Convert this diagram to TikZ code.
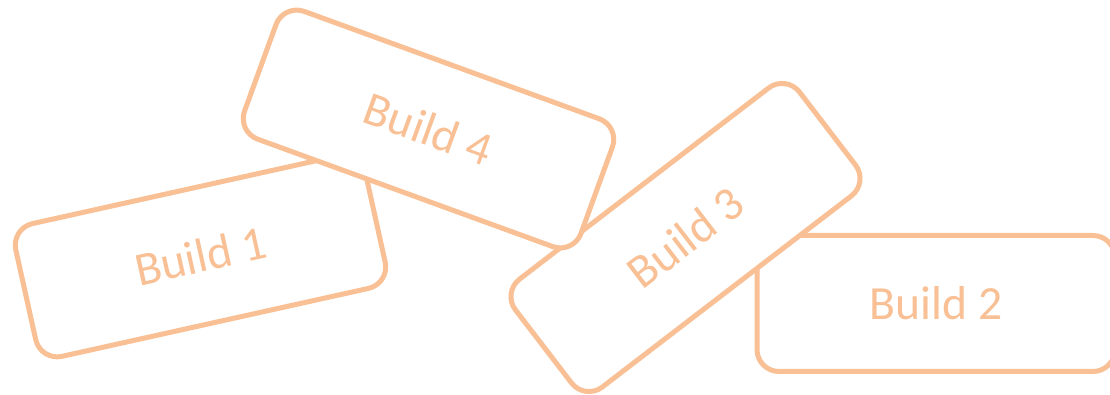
\documentclass[tikz,border=0pt]{standalone}
\usepackage{fontspec}
\setmainfont{Carlito}
\definecolor{peche}{RGB}{248,192,148}

\begin{document}
\begin{tikzpicture}[x=0.5pt, y=-0.5pt,
		build/.style={draw=peche, fill=white, line width=2.5pt, rounded corners=11pt,
			minimum width=179pt, minimum height=68pt, inner sep=0pt,
			text=peche, font=\fontsize{23.8}{28}\selectfont}]
		\useasboundingbox (0,0) rectangle (1110,395);
		%Blocs
		\node[build, rotate=12.5] (B1) at (200.5,256) {Build 1};
		\node[build] (B2) at (936,303.5) {Build 2};
		\node[build, rotate=37.5] (B3) at (685.5,237.5) {Build 3};
		\node[build, rotate=-20] (B4) at (428.5,129) {Build 4};
	\end{tikzpicture}
\end{document}
